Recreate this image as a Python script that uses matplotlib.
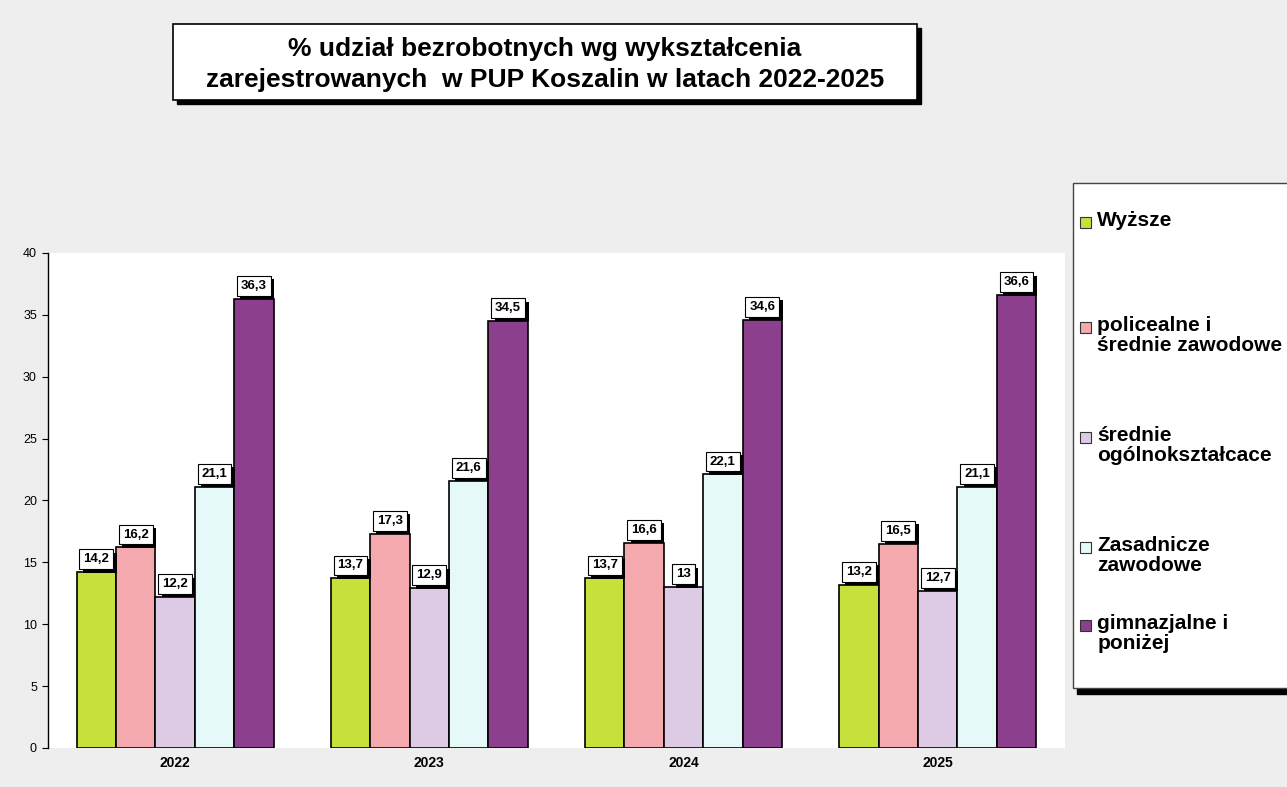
import matplotlib
matplotlib.use("Agg")
from matplotlib import pyplot as plt
from matplotlib.patches import Rectangle
import matplotlib.patheffects as pe
import numpy as np

years = ["2022", "2023", "2024", "2025"]
series_names = ["Wyższe", "policealne i\nśrednie zawodowe", "średnie\nogólnokształcace",
                "Zasadnicze\nzawodowe", "gimnazjalne i\nponiżej"]
wyzsze = [14.2, 13.7, 13.7, 13.2]
policealne = [16.2, 17.3, 16.6, 16.5]
srednie_ogolne = [12.2, 12.9, 13, 12.7]
zasadnicze = [21.1, 21.6, 22.1, 21.1]
gimnazjalne = [36.3, 34.5, 34.6, 36.6]
colors = ["#c8e03c", "#f3a9ad", "#ddcbe6", "#e6f9f9", "#8c3f8c"]

plt.rcParams['font.family'] = ['Liberation Sans', 'DejaVu Sans']

fig = plt.figure(figsize=(12.87, 7.87), dpi=100, facecolor="#eeeeee")
ax = fig.add_axes([0.0373, 0.0496, 0.79, 0.629])
ax.set_facecolor("white")

all_series = [wyzsze, policealne, srednie_ogolne, zasadnicze, gimnazjalne]
x = np.arange(len(years))
w = 0.155


def fmt(v):
    if v == int(v):
        return str(int(v))
    return ("%.1f" % v).replace(".", ",")


for i, (vals, c) in enumerate(zip(all_series, colors)):
    xs = x + (i - 2) * w
    ax.bar(xs, vals, width=w, color=c, edgecolor="black", linewidth=1.2, zorder=2)
    for xi, v in zip(xs, vals):
        t = ax.annotate(fmt(v), (xi, v), xytext=(0, 5), textcoords="offset points",
                        ha="center", va="bottom", fontsize=9.5, fontweight="bold", zorder=4,
                        bbox=dict(boxstyle="square,pad=0.3", fc="white", ec="black", lw=0.8))
        t.get_bbox_patch().set_path_effects([
            pe.SimplePatchShadow(offset=(2.5, -2.5), shadow_rgbFace="black", alpha=1),
            pe.Normal()])

ax.set_xlim(-0.5, 3.5)
ax.set_ylim(0, 40)
ax.set_yticks(range(0, 41, 5))
ax.set_xticks(x)
ax.set_xticklabels(years, fontsize=10, fontweight="bold")
ax.tick_params(axis="x", length=0, pad=6)
ax.tick_params(axis="y", labelsize=9, length=4, direction="out", pad=4)
for s in ["top", "right", "bottom"]:
    ax.spines[s].set_visible(False)
ax.spines["left"].set_linewidth(1)

# title box with shadow
fig.patches.append(Rectangle((0.1375, 0.868), 0.578, 0.097, transform=fig.transFigure,
                             fc="black", ec="black", zorder=1))
fig.patches.append(Rectangle((0.1344, 0.873), 0.578, 0.097, transform=fig.transFigure,
                             fc="white", ec="black", lw=1.2, zorder=2))
fig.text(0.4234, 0.918, "% udział bezrobotnych wg wykształcenia\nzarejestrowanych  w PUP Koszalin w latach 2022-2025",
         ha="center", va="center", fontsize=19, fontweight="bold", linespacing=1.4, zorder=3)

# legend box
fig.patches.append(Rectangle((0.8365, 0.118), 0.2, 0.648, transform=fig.transFigure,
                             fc="black", ec="black", zorder=1))
fig.patches.append(Rectangle((0.834, 0.1255), 0.2, 0.642, transform=fig.transFigure,
                             fc="white", ec="#444444", lw=1, zorder=2))
legend_y = [222, 327, 437, 547, 625]
for name, c, yy in zip(series_names, colors, legend_y):
    yf = 1 - yy / 787
    fig.patches.append(Rectangle((0.8395, yf - 0.007), 0.0085, 0.0135, transform=fig.transFigure,
                                 fc=c, ec="#333333", lw=0.8, zorder=3))
    fig.text(0.8525, yf + 0.014, name, ha="left", va="top", fontsize=15, fontweight="bold",
             linespacing=1.05, zorder=3)

fig.savefig("out.png", dpi=100, facecolor=fig.get_facecolor())
